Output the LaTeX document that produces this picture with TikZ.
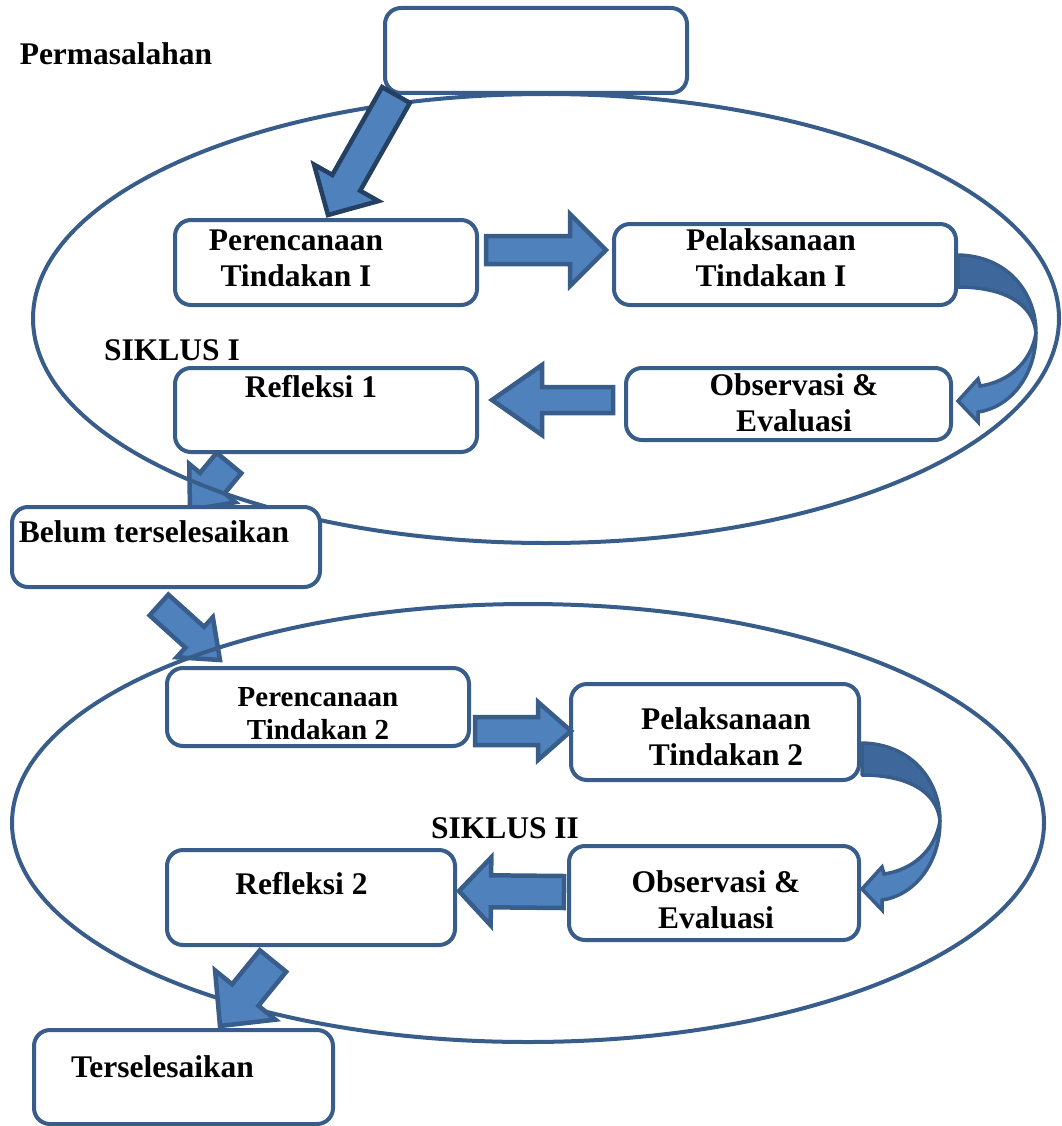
\documentclass[tikz,border=0pt]{standalone}
\usepackage{fontspec}
\setmainfont{Liberation Serif}
\usetikzlibrary{calc, shapes.geometric}

\definecolor{boxline}{RGB}{56,93,138}
\definecolor{arrowfill}{RGB}{79,129,189}
\definecolor{arrowdark}{RGB}{36,64,98}
\definecolor{backfill}{RGB}{62,104,156}

% block arrow: [options]{tail}{tip}{shaft half width}{head half width}{head length}
\newcommand{\blockarrow}[6][]{%
  \path (#2) coordinate (ba_s) (#3) coordinate (ba_e);
  \path ($(ba_e)!#6!(ba_s)$) coordinate (ba_h);
  \draw[block_arrow,#1] ($(ba_s)!#4!90:(ba_e)$) -- ($(ba_h)!#4!90:(ba_e)$)
    -- ($(ba_h)!#5!90:(ba_e)$) -- (ba_e) -- ($(ba_h)!#5!-90:(ba_e)$)
    -- ($(ba_h)!#4!-90:(ba_e)$) -- ($(ba_s)!#4!-90:(ba_e)$) -- cycle;
}

\begin{document}
\begin{tikzpicture}[
    x=1pt, y=-1pt,
    box/.style={rectangle, rounded corners=16pt, draw=boxline, fill=white, line width=4pt, inner sep=0pt},
    ring/.style={ellipse, draw=boxline, line width=4pt, inner sep=0pt},
    txt/.style={font=\fontsize{31.5}{36}\selectfont\bfseries, align=center, inner sep=0pt},
    txt_small/.style={txt, font=\fontsize{29}{33}\selectfont\bfseries},
    block_arrow/.style={draw=boxline, fill=arrowfill, line width=4.5pt, line join=miter},
    uturn/.pic={
        % back part of the curved arrow
        \filldraw[draw=boxline, fill=backfill, line width=3.5pt, line join=round]
            (0,0) .. controls (50,1) and (78,38) .. (78,78)
            .. controls (75,48) and (45,32) .. (0,32) -- cycle;
        % front part with the head
        \filldraw[draw=boxline, fill=arrowfill, line width=3.5pt, line join=miter]
            (78,78) .. controls (78,123) and (50,153) .. (20,157) -- (20,167)
            -- (0,146) -- (20,124) -- (22,131)
            .. controls (50,127) and (73,108) .. (78,78) -- cycle;
    }
]

\pgfdeclarelayer{bg}    % arrows under the rings
\pgfdeclarelayer{mid}   % rings
\pgfsetlayers{bg,mid,main}

\useasboundingbox (0,0) rectangle (1061,1126);

% Boxes
\node[box, minimum width=302, minimum height=85] (top) at (536,50.5) {};
\node[box, minimum width=302, minimum height=85] (pren1) at (326,262.5) {};
\node[box, minimum width=342, minimum height=81] (pel1) at (785,264.5) {};
\node[box, minimum width=302, minimum height=84] (ref1) at (326,410) {};
\node[box, minimum width=325, minimum height=72] (obs1) at (788.5,404) {};
\node[box, minimum width=308, minimum height=80] (belum) at (166,547) {};
\node[box, minimum width=302, minimum height=78] (pren2) at (318,707) {};
\node[box, minimum width=288, minimum height=96] (pel2) at (715,732) {};
\node[box, minimum width=288, minimum height=95] (ref2) at (311,897.5) {};
\node[box, minimum width=290, minimum height=94] (obs2) at (714,893) {};
\node[box, minimum width=299, minimum height=94] (tersel) at (183.5,1077) {};

% Rings of the two cycles
\begin{pgfonlayer}{mid}
    \node[ring, minimum width=1026, minimum height=449] (siklus1) at (546,318.5) {};
    \node[ring, minimum width=1032, minimum height=438] (siklus2) at (528,823) {};
\end{pgfonlayer}

% Texts
\node[txt] (t_perm) at (116,54) {Permasalahan};
\node[txt] (t_pren1) at (296,258) {Perencanaan\\Tindakan I};
\node[txt] (t_pel1) at (771,258) {Pelaksanaan\\Tindakan I};
\node[txt] (t_sik1) at (172,350) {SIKLUS I};
\node[txt] (t_ref1) at (311,387) {Refleksi 1};
\node[txt] (t_obs1) at (794,403) {Observasi \&\\ Evaluasi};
\node[txt] (t_belum) at (154,532) {Belum terselesaikan};
\node[txt_small] (t_pren2) at (318,714) {Perencanaan\\Tindakan 2};
\node[txt] (t_pel2) at (726,737) {Pelaksanaan\\ Tindakan 2};
\node[txt] (t_sik2) at (505,828) {SIKLUS II};
\node[txt] (t_ref2) at (301.5,884) {Refleksi 2};
\node[txt] (t_obs2) at (716,900) {Observasi \&\\Evaluasi};
\node[txt] (t_tersel) at (162.5,1067) {Terselesaikan};

% Block arrows under the rings
\begin{pgfonlayer}{bg}
    \blockarrow{$(ref1.south west)+(56,9)$}{$(belum.north)+(24,5)$}{16pt}{30pt}{35pt}
    \blockarrow{$(belum.south)+(-7,16)$}{$(pren2.north west)+(55,-6)$}{14pt}{27pt}{34pt}
\end{pgfonlayer}

% Block arrows
\blockarrow[draw=arrowdark]{$(top.south west)+(13,0)$}{$(pren1.north)+(2,-3)$}{16pt}{37pt}{37pt}
\blockarrow{$(pren1.east)+(7,-12.5)$}{$(pel1.west)+(-6,-14.5)$}{14pt}{36pt}{36pt}
\blockarrow{$(obs1.west)+(-11,-4)$}{$(ref1.east)+(13,-10)$}{13pt}{35pt}{50pt}
\blockarrow{$(pren2.east)+(4,24)$}{$(pel2.west)+(2,-1)$}{14pt}{29pt}{33pt}
\blockarrow{$(obs2.west)+(-3,-1)$}{$(ref2.east)+(2,-6.5)$}{16pt}{34pt}{32pt}
\blockarrow{$(ref2.south)+(-38,14)$}{$(tersel.north)+(36.5,-2)$}{17pt}{39pt}{40pt}

% Curved arrows at the right side
\pic (turn1) at ($(pel1.north east)+(0,33)$) {uturn};
\pic (turn2) at ($(pel2.north east)+(1,61)$) {uturn};

\end{tikzpicture}
\end{document}
